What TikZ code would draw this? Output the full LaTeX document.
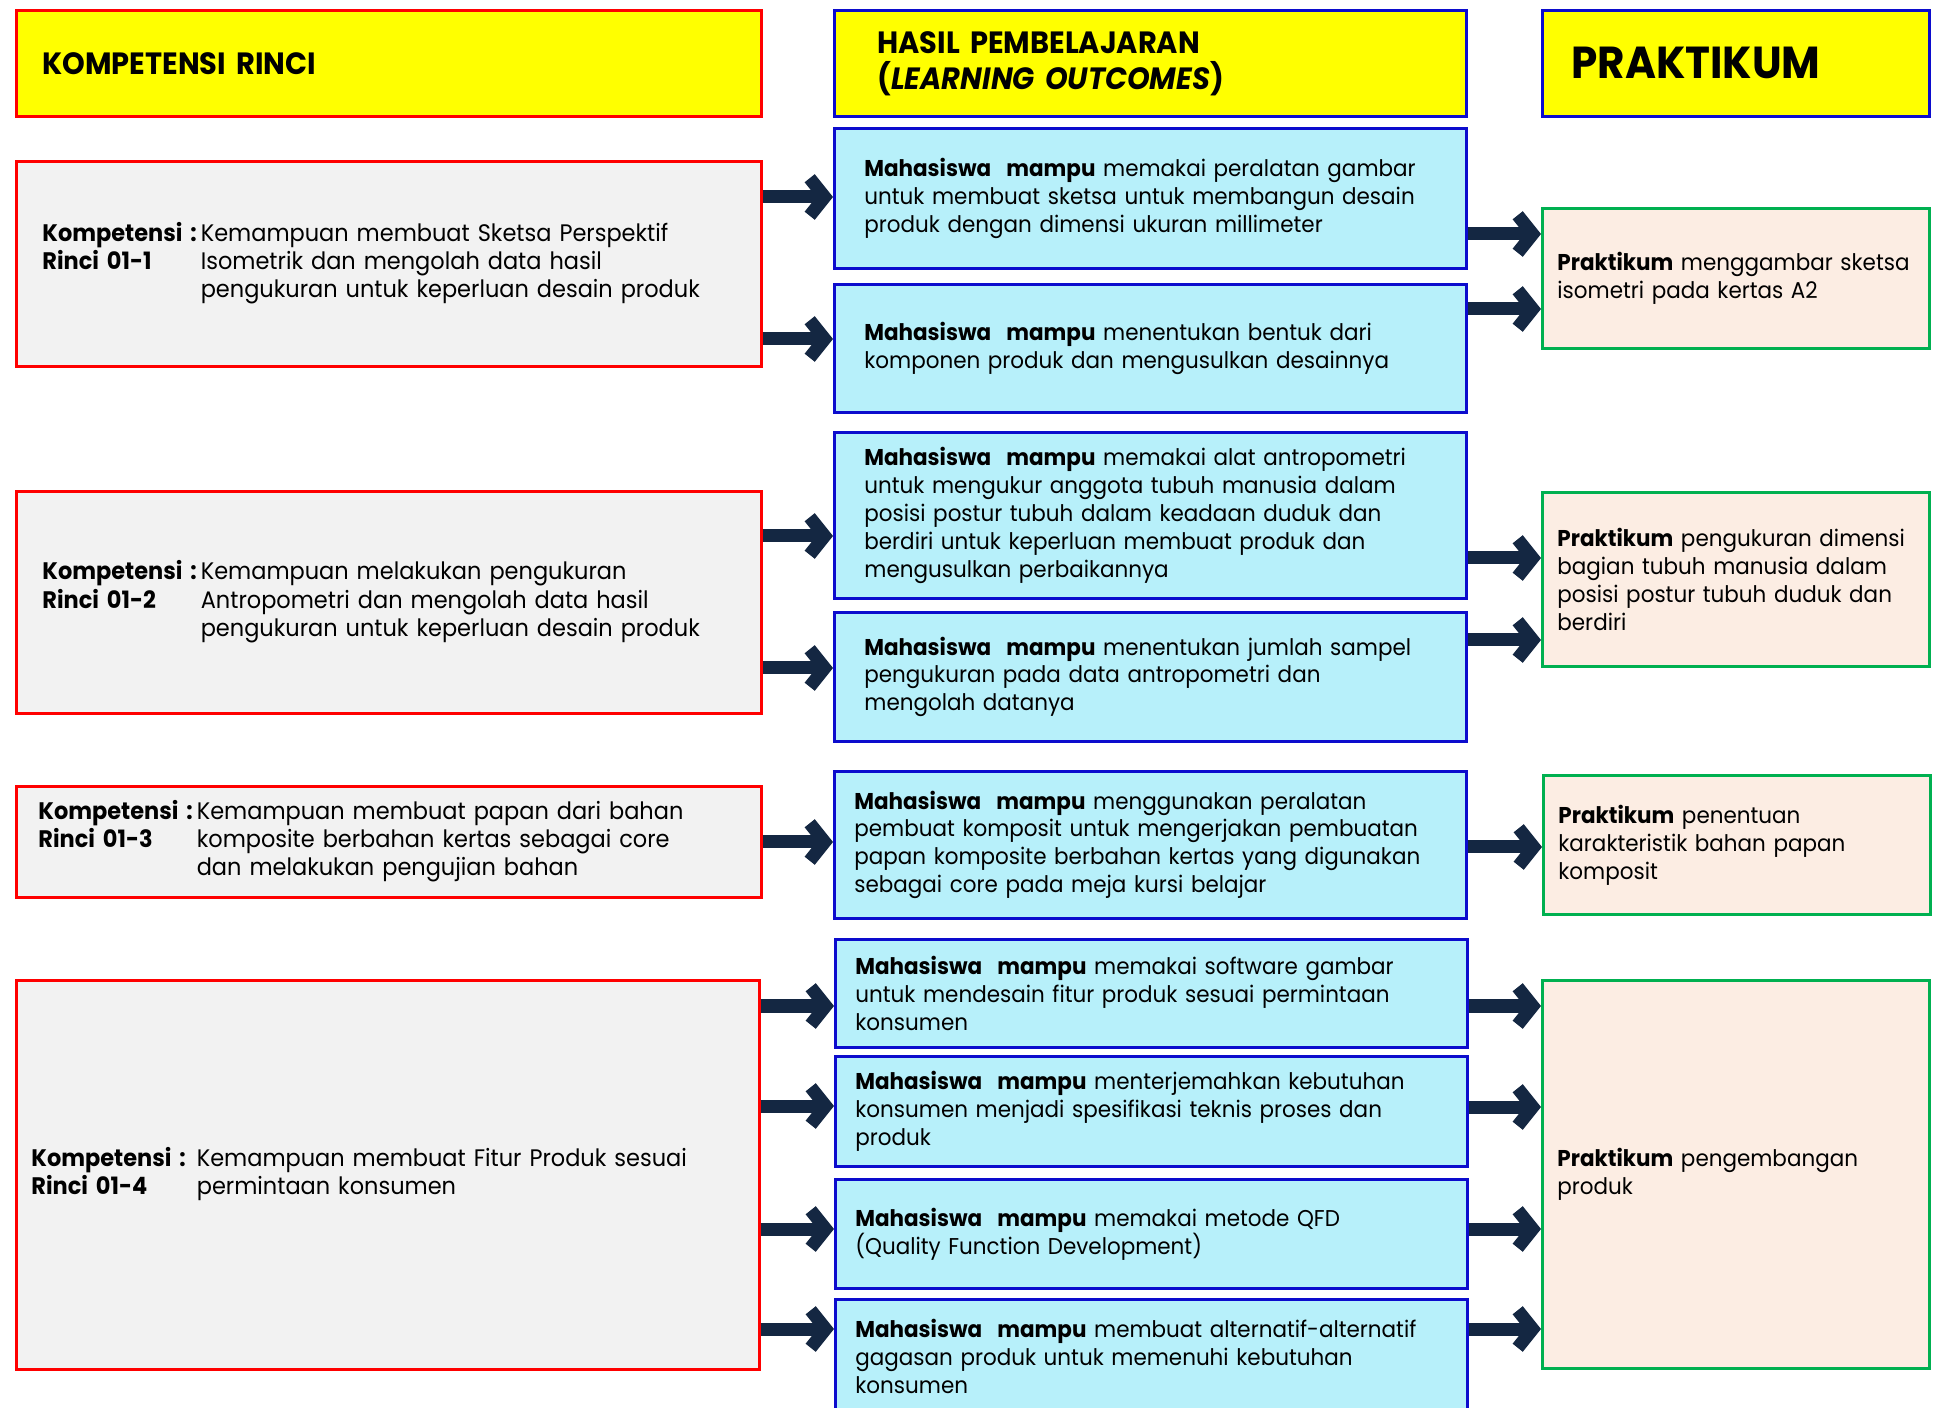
\documentclass[tikz,border=0pt]{standalone}
\usepackage{fontspec}
\setmainfont{Poppins}[FakeStretch=0.94]
\usetikzlibrary{arrows.meta}
\definecolor{hdryellow}{RGB}{255,255,0}
\definecolor{kompred}{RGB}{255,0,0}
\definecolor{kompfill}{RGB}{242,242,242}
\definecolor{loblue}{RGB}{12,12,205}
\definecolor{lofill}{RGB}{183,240,250}
\definecolor{prgreen}{RGB}{0,176,80}
\definecolor{prfill}{RGB}{252,237,227}
\definecolor{arrownavy}{RGB}{20,39,66}
\hyphenpenalty=10000

\begin{document}
\begin{tikzpicture}[x=.02cm,y=-.02cm,>={Straight Barb[length=.3cm,width=.75cm]},
  hdr/.style={draw,line width=1.6pt,fill=hdryellow,anchor=north west,align=left,
    minimum height=2.12cm,font=\fontsize{17.5}{20.5}\selectfont\bfseries},
  komp/.style={draw=kompred,line width=1.6pt,fill=kompfill,anchor=north west,align=left,
    minimum width=14.9cm,inner xsep=.52cm,text width=13.86cm,font=\fontsize{13.6}{16}\selectfont},
  lo/.style={draw=loblue,line width=1.6pt,fill=lofill,anchor=north west,align=left,
    minimum width=12.64cm,inner xsep=.6cm,text width=11.44cm,font=\fontsize{13}{15.9}\selectfont},
  lonarrow/.style={inner xsep=.4cm,text width=11.84cm},
  prak/.style={draw=prgreen,line width=1.6pt,fill=prfill,anchor=north west,align=left,
    minimum width=7.74cm,inner xsep=.3cm,text width=7.14cm,font=\fontsize{13}{15.9}\selectfont},
  conn/.style={->,arrownavy,line width=7.4pt}]
\useasboundingbox[fill=white] (0,0) rectangle (1935,1408);

% column heads
\node[hdr,draw=kompred,minimum width=14.9cm,inner xsep=.52cm,text width=13.86cm] (hkomp) at (15,9) {KOMPETENSI RINCI};
\node[hdr,draw=loblue,minimum width=12.64cm,inner xsep=.86cm,text width=10.92cm] (hlo) at (833,9) {HASIL PEMBELAJARAN\\(\textit{LEARNING OUTCOMES})};
\node[hdr,draw=loblue,minimum width=7.74cm,inner xsep=.58cm,text width=6.58cm,font=\fontsize{25.5}{28}\selectfont\bfseries] (hprak) at (1541,9) {PRAKTIKUM};

% kompetensi rinci
\node[komp,minimum height=4.1cm] (k1) at (15,160) {\begin{tabular}{@{}l@{\,}l@{}}
\textbf{Kompetensi :} & Kemampuan membuat Sketsa Perspektif\\
\textbf{Rinci 01-1} & Isometrik dan mengolah data hasil\\
 & pengukuran untuk keperluan desain produk\end{tabular}};
\node[komp,minimum height=4.44cm] (k2) at (15,490) {\begin{tabular}{@{}l@{\,}l@{}}
\textbf{Kompetensi :} & Kemampuan melakukan pengukuran\\
\textbf{Rinci 01-2} & Antropometri dan mengolah data hasil\\
 & pengukuran untuk keperluan desain produk\end{tabular}};
\node[komp,minimum height=2.22cm,inner xsep=.44cm,text width=14.02cm] (k3) at (15,785) {\begin{tabular}{@{}l@{\,}l@{}}
\textbf{Kompetensi :} & Kemampuan membuat papan dari bahan\\
\textbf{Rinci 01-3} & komposite berbahan kertas sebagai core\\
 & dan melakukan pengujian bahan\end{tabular}};
\node[komp,minimum height=7.78cm,minimum width=14.86cm,inner xsep=.3cm,text width=14.26cm] (k4) at (15,979) {\begin{tabular}{@{}l@{\hspace{.22cm}}l@{}}
\textbf{Kompetensi :} & Kemampuan membuat Fitur Produk sesuai\\
\textbf{Rinci 01-4} & permintaan konsumen\end{tabular}};

% hasil pembelajaran
\node[lo,minimum height=2.8cm] (lo1) at (833,127) {\textbf{Mahasiswa\ \ mampu} memakai peralatan gambar\\untuk membuat sketsa untuk membangun desain\\produk dengan dimensi ukuran millimeter};
\node[lo,minimum height=2.56cm] (lo2) at (833,283) {\textbf{Mahasiswa\ \ mampu} menentukan bentuk dari\\komponen produk dan mengusulkan desainnya};
\node[lo,minimum height=3.32cm] (lo3) at (833,431) {\textbf{Mahasiswa\ \ mampu} memakai alat antropometri\\untuk mengukur anggota tubuh manusia dalam\\posisi postur tubuh dalam keadaan duduk dan\\berdiri untuk keperluan membuat produk dan\\mengusulkan perbaikannya};
\node[lo,minimum height=2.58cm] (lo4) at (833,611) {\textbf{Mahasiswa\ \ mampu} menentukan jumlah sampel\\pengukuran pada data antropometri dan\\mengolah datanya};
\node[lo,lonarrow,minimum height=2.94cm] (lo5) at (833,770) {\textbf{Mahasiswa\ \ mampu} menggunakan peralatan\\pembuat komposit untuk mengerjakan pembuatan\\papan komposite berbahan kertas yang digunakan\\sebagai core pada meja kursi belajar};
\node[lo,lonarrow,minimum height=2.16cm] (lo6) at (834,938) {\textbf{Mahasiswa\ \ mampu} memakai software gambar\\untuk mendesain fitur produk sesuai permintaan\\konsumen};
\node[lo,lonarrow,minimum height=2.2cm] (lo7) at (834,1055) {\textbf{Mahasiswa\ \ mampu} menterjemahkan kebutuhan\\konsumen menjadi spesifikasi teknis proses dan\\produk};
\node[lo,lonarrow,minimum height=2.18cm] (lo8) at (834,1178) {\textbf{Mahasiswa\ \ mampu} memakai metode QFD\\(Quality Function Development)};
\node[lo,lonarrow,minimum height=2.28cm] (lo9) at (834,1298) {\textbf{Mahasiswa\ \ mampu} membuat alternatif-alternatif\\gagasan produk untuk memenuhi kebutuhan\\konsumen};

% praktikum
\node[prak,minimum height=2.8cm] (pr1) at (1541,207) {\textbf{Praktikum} menggambar sketsa\\isometri pada kertas A2};
\node[prak,minimum height=3.48cm] (pr2) at (1541,491) {\textbf{Praktikum} pengukuran dimensi\\bagian tubuh manusia dalam\\posisi postur tubuh duduk dan\\berdiri};
\node[prak,minimum height=2.78cm] (pr3) at (1542,774) {\textbf{Praktikum} penentuan\\karakteristik bahan papan\\komposit};
\node[prak,minimum height=7.76cm] (pr4) at (1541,979) {\textbf{Praktikum} pengembangan\\produk};

% arrows kompetensi -> hasil
\draw[conn] (k1.east |- 0,197) -- (lo1.west |- 0,197);
\draw[conn] (k1.east |- 0,339) -- (lo2.west |- 0,339);
\draw[conn] (k2.east |- 0,536) -- (lo3.west |- 0,536);
\draw[conn] (k2.east |- 0,668) -- (lo4.west |- 0,668);
\draw[conn] (k3.east |- 0,842) -- (lo5.west |- 0,842);
\draw[conn] (k4.east |- 0,1006) -- (lo6.west |- 0,1006);
\draw[conn] (k4.east |- 0,1106) -- (lo7.west |- 0,1106);
\draw[conn] (k4.east |- 0,1229) -- (lo8.west |- 0,1229);
\draw[conn] (k4.east |- 0,1329) -- (lo9.west |- 0,1329);
% arrows hasil -> praktikum
\draw[conn] (lo1.east |- 0,234) -- (pr1.west |- 0,234);
\draw[conn] (lo2.east |- 0,309) -- (pr1.west |- 0,309);
\draw[conn] (lo3.east |- 0,558) -- (pr2.west |- 0,558);
\draw[conn] (lo4.east |- 0,640) -- (pr2.west |- 0,640);
\draw[conn] (lo5.east |- 0,847) -- (pr3.west |- 0,847);
\draw[conn] (lo6.east |- 0,1006) -- (pr4.west |- 0,1006);
\draw[conn] (lo7.east |- 0,1107) -- (pr4.west |- 0,1107);
\draw[conn] (lo8.east |- 0,1229) -- (pr4.west |- 0,1229);
\draw[conn] (lo9.east |- 0,1329) -- (pr4.west |- 0,1329);
\end{tikzpicture}
\end{document}
